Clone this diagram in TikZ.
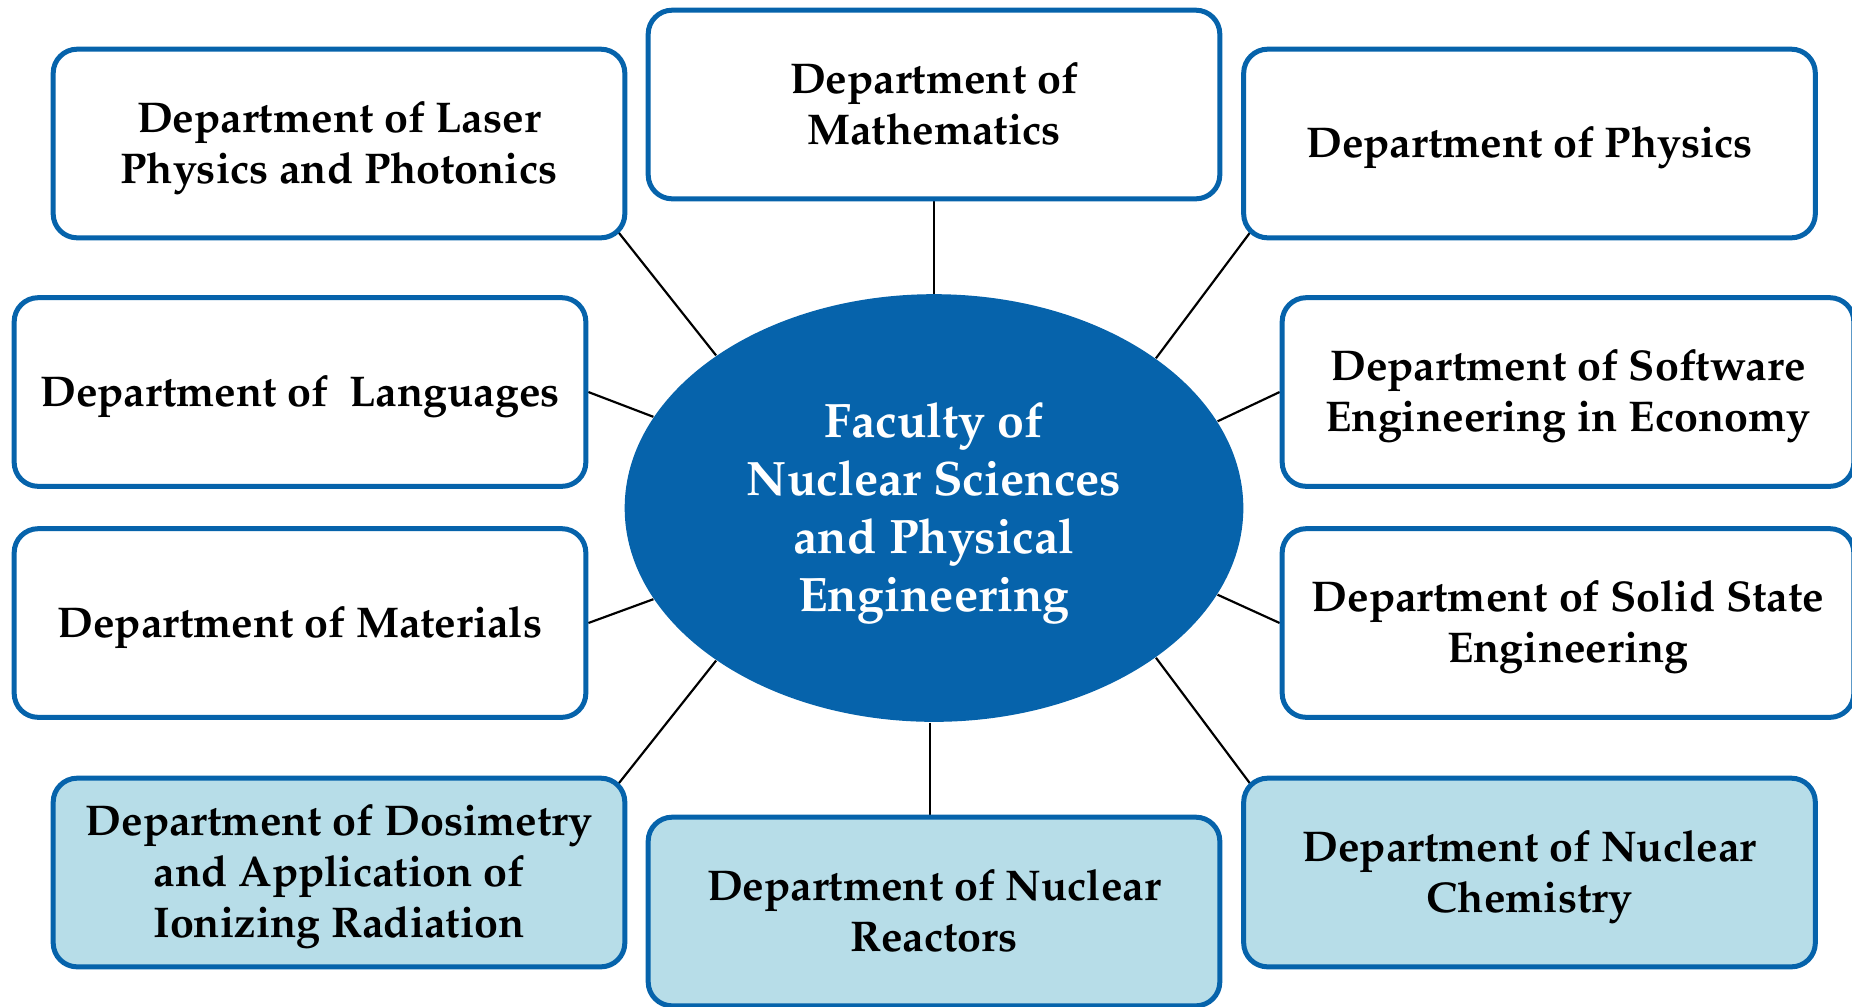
\documentclass[tikz,border=0pt]{standalone}
\usepackage[T1]{fontenc}
\renewcommand{\rmdefault}{ppl}
\usetikzlibrary{shapes.geometric,backgrounds,calc}
\definecolor{fnblue}{RGB}{6,99,171}
\definecolor{fnlight}{RGB}{183,221,232}
\newcommand\deptfont{\fontsize{12.9pt}{15.3pt}\selectfont\bfseries}
\newcommand\facfont{\fontsize{14.5pt}{17.4pt}\selectfont\bfseries}
\begin{document}
\begin{tikzpicture}[x=0.3pt,y=-0.3pt,
  dept/.style={draw=fnblue,line width=1.5pt,rounded corners=7.2pt,fill=white,
    minimum width=171.5pt,minimum height=56.6pt,inner sep=0pt},
  deptl/.style={dept,fill=fnlight},
  tlab/.style={align=center,font=\deptfont,inner sep=0pt,yshift=-1.3pt},
  tlabc/.style={align=center,font=\deptfont,inner sep=0pt,yshift=0.3pt},
  conn/.style={draw=black,line width=0.65pt}]
\useasboundingbox (0,0) rectangle (1852,1006);
\node[ellipse,fill=fnblue,minimum width=185.6pt,minimum height=128.3pt,inner sep=0pt,
  label={[align=center,text=white,font=\facfont,inner sep=0pt,yshift=-1.6pt]center:{Faculty of\\Nuclear Sciences\\and Physical\\Engineering}}] (fac) at (934,508) {};
\node[dept,label={[tlab]center:{Department of Laser\\Physics and Photonics}}] (laser) at (339,143.5) {};
\node[dept,label={[tlabc]center:{Department of\\Mathematics}}] (math) at (934,104.5) {};
\node[dept,label={[tlab]center:{Department of Physics}}] (phys) at (1529.5,143.5) {};
\node[dept,label={[tlab]center:{Department of~ Languages}}] (lang) at (300,392) {};
\node[dept,label={[tlab]center:{Department of Software\\Engineering in Economy}}] (soft) at (1568,392) {};
\node[dept,label={[tlab]center:{Department of Materials}}] (mat) at (300,623) {};
\node[dept,label={[tlab]center:{Department of Solid State\\Engineering}}] (solid) at (1568,623) {};
\node[deptl,label={[tlab]center:{Department of Dosimetry\\and Application of\\Ionizing Radiation}}] (dos) at (339,872.5) {};
\node[deptl,label={[tlabc]center:{Department of Nuclear\\Reactors}}] (reac) at (934,911.5) {};
\node[deptl,label={[tlab]center:{Department of Nuclear\\Chemistry}}] (chem) at (1529.5,872.5) {};
\begin{scope}[on background layer]
\draw[conn] (fac.145.8) -- ([shift={(-12,-12)}]laser.south east);
\draw[conn] (fac.north) -- (math.south);
\draw[conn] (fac.34.8) -- ([shift={(12,-12)}]phys.south west);
\draw[conn] (fac.162.4) -- (lang.east);
\draw[conn] (fac.17.6) -- (soft.west);
\draw[conn] (fac.-162.4) -- (mat.east);
\draw[conn] (fac.-17.6) -- (solid.west);
\draw[conn] (fac.-145.3) -- ([shift={(-12,12)}]dos.north east);
\draw[conn] ([xshift=-1.2pt]fac.south) -- ([xshift=-1.2pt]reac.north);
\draw[conn] (fac.-34.6) -- ([shift={(12,12)}]chem.north west);
\end{scope}
\end{tikzpicture}
\end{document}
